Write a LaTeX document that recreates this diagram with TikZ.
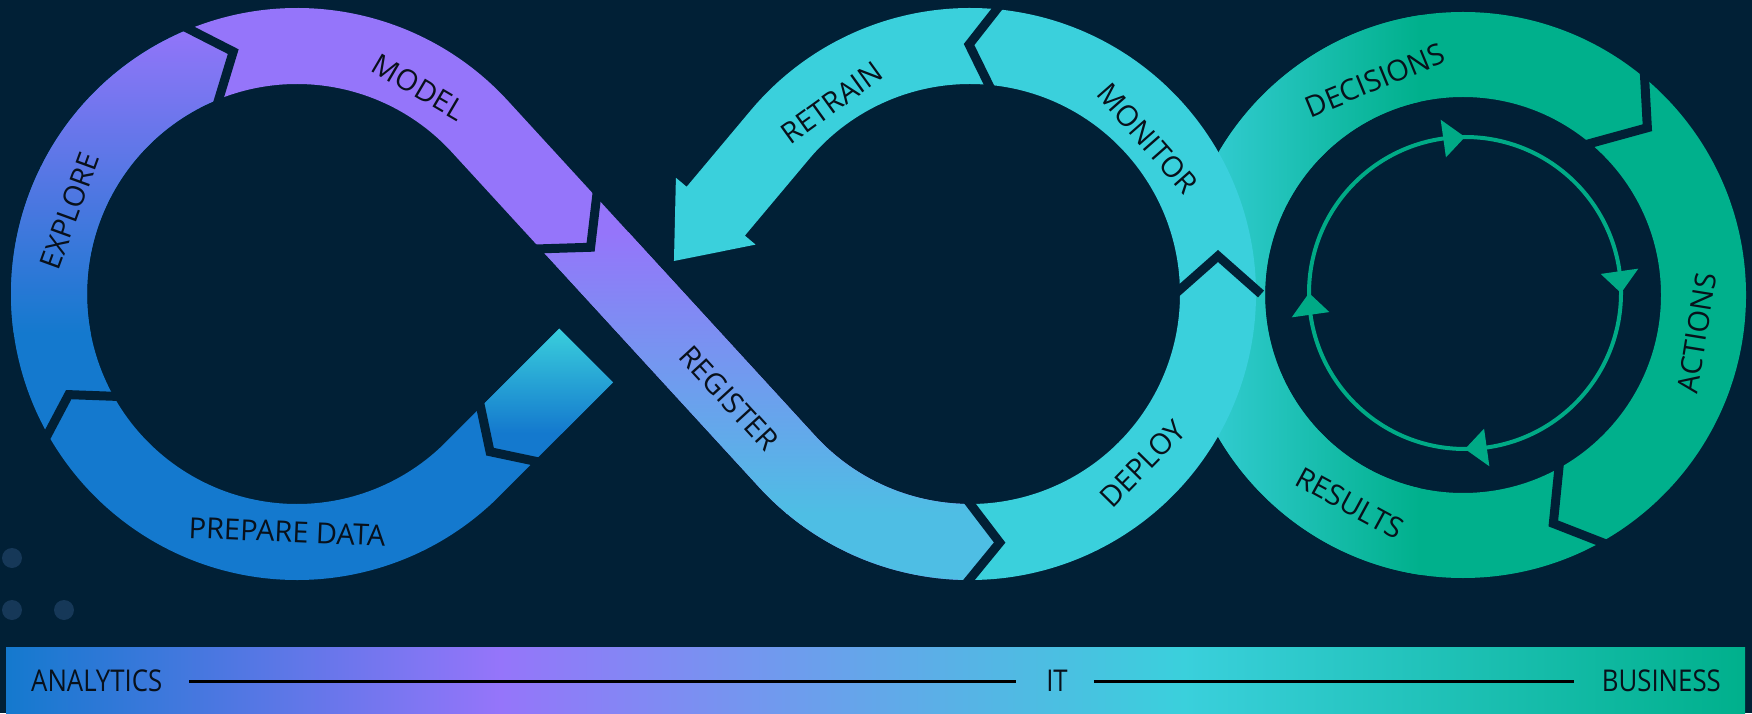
\documentclass[tikz,border=0pt]{standalone}
\usepackage{fontspec}
\setmainfont{Open Sans}
\newfontfamily\barfont[FakeStretch=0.86]{Open Sans}
\usetikzlibrary{calc}

\definecolor{bgc}{RGB}{1,32,54}
\definecolor{purp}{RGB}{149,117,250}
\definecolor{blu}{RGB}{20,121,206}
\definecolor{cyn}{RGB}{58,208,220}
\definecolor{grn}{RGB}{0,176,140}
\definecolor{lblu}{RGB}{78,190,228}
\definecolor{dotc}{RGB}{22,56,88}
\definecolor{ink}{RGB}{8,16,26}
\definecolor{loopc}{RGB}{0,170,134}

\begin{document}
\begin{tikzpicture}[x=1pt, y=1pt,
  every node/.style={font=\fontsize{29}{29}\selectfont, text=ink, inner sep=0pt},
  barlab/.style={font=\barfont\fontsize{30}{30}\selectfont},
  barline/.style={draw=black, line width=3pt},
  cutline/.style={draw=bgc, line width=9pt, line join=miter, line cap=butt}]

  \useasboundingbox (0,0) rectangle (1752,713);
  \fill[bgc] (0,0) rectangle (1752,713);

  % centres of the three loops
  \coordinate (L) at (297,419);
  \coordinate (M) at (970,419);
  \coordinate (R) at (1463,418);
  \coordinate (C) at (1465,420);
  \coordinate (S0) at ($(L)+(42.52:248)$);
  \coordinate (T0) at ($(L)+(-45:248)$);
  \coordinate (Q0) at ($(M)+(140:248)$);
  \coordinate (Q1) at ($(Q0)+(230:100)$);

  % chevron tips
  \coordinate (chEP) at ($(L)+(210:248)+(120:27)$);
  \coordinate (chEM) at ($(L)+(113:248)+(23:36)$);
  \coordinate (chMR) at ($(S0)+(-47.48:164)$);
  \coordinate (chRD) at ($(M)+(269:248)+(359:34)$);
  \coordinate (chDM) at ($(M)+(0:248)+(90:38)$);
  \coordinate (chMT) at ($(M)+(84:248)+(174:27)$);
  \coordinate (chPC) at ($(T0)+(45:25)$);

  % Business ring (right)
  \begin{scope}
    \clip (R) ++(0:283) arc[start angle=0, end angle=360, radius=283]
      -- ($(R)+(0:198)$) arc[start angle=360, end angle=0, radius=198] -- cycle;
    \fill[grn] (1150,100) rectangle (1752,713);
    \shade[left color=cyn, right color=grn] (1175,100) rectangle (1420,713);
  \end{scope}
  \draw[cutline] ($(R)+(51:288)$) -- ($(R)+(51:246)+(-39:38)$) -- ($(R)+(51:193)$);
  \draw[cutline] ($(R)+(-60:288)$) -- ($(R)+(-60:243)+(-150:36)$) -- ($(R)+(-60:193)$);

  % Prepare data (bottom-left)
  \fill[blu] ($(T0)+(45:53)+(-45:38)$) -- ($(L)+(-45:286)$)
    arc[start angle=-45, end angle=-150, radius=286] -- (chEP) -- ($(L)+(-150:210)$)
    arc[start angle=-150, end angle=-45, radius=210] -- ($(T0)+(45:53)+(135:38)$) -- (chPC) -- cycle;

  % end of retrain, coming out under register
  \begin{scope}
    \clip ($(T0)+(45:161)+(-45:38)$) -- ($(T0)+(45:161)+(135:38)$)
      -- ($(T0)+(45:53)+(135:38)$) -- (chPC) -- ($(T0)+(45:53)+(-45:38)$) -- cycle;
    \fill[blu] (440,240) rectangle (640,400);
    \shade[top color=cyn, bottom color=blu] (440,280) rectangle (640,386);
  \end{scope}

  % Explore (left)
  \begin{scope}
    \clip ($(L)+(210:286)$) arc[start angle=210, end angle=113, radius=286] -- (chEM)
      -- ($(L)+(113:210)$) arc[start angle=113, end angle=210, radius=210] -- (chEP) -- cycle;
    \fill[blu] (0,250) rectangle (320,700);
    \shade[top color=purp, bottom color=blu] (0,380) rectangle (320,690);
  \end{scope}

  % Model (top-left)
  \fill[purp] ($(L)+(113:286)$) arc[start angle=113, end angle=42.52, radius=286]
    -- ($(S0)+(-47.48:127)+(42.52:38)$) -- (chMR) -- ($(S0)+(-47.48:127)+(222.52:38)$)
    -- ($(L)+(42.52:210)$) arc[start angle=42.52, end angle=113, radius=210] -- (chEM) -- cycle;

  % Register (crossing)
  \begin{scope}
    \clip ($(S0)+(-47.48:127)+(42.52:38)$) -- ($(M)+(222.52:210)$)
      arc[start angle=222.52, end angle=269, radius=210] -- (chRD) -- ($(M)+(269:286)$)
      arc[start angle=269, end angle=222.52, radius=286]
      -- ($(S0)+(-47.48:127)+(222.52:38)$) -- (chMR) -- cycle;
    \fill[purp] (500,100) rectangle (1050,560);
    \fill[lblu] (500,100) rectangle (1050,200.5);
    \shade[top color=purp, bottom color=lblu] (500,200) rectangle (1050,480);
  \end{scope}

  % Deploy, monitor, retrain (middle)
  \fill[cyn] ($(M)+(269:286)$) arc[start angle=269, end angle=360, radius=286] -- (chDM)
    -- ($(M)+(0:210)$) arc[start angle=360, end angle=269, radius=210] -- (chRD) -- cycle;
  \fill[cyn] ($(M)+(0:286)$) arc[start angle=0, end angle=84, radius=286] -- (chMT)
    -- ($(M)+(84:210)$) arc[start angle=84, end angle=0, radius=210] -- (chDM) -- cycle;
  \fill[cyn] ($(M)+(84:286)$) arc[start angle=84, end angle=140, radius=286]
    -- ($(Q1)+(140:38)$) -- ($(Q1)+(140:52)$) -- ($(Q1)+(230:65)$)
    -- ($(Q1)+(-40:52)$) -- ($(Q1)+(-40:38)$)
    -- ($(M)+(140:210)$) arc[start angle=140, end angle=84, radius=210] -- (chMT) -- cycle;

  % cuts between the steps
  \draw[cutline] ($(L)+(210:291)$) -- (chEP) -- ($(L)+(210:205)$);
  \draw[cutline] ($(L)+(113:291)$) -- (chEM) -- ($(L)+(113:205)$);
  \draw[cutline] ($(S0)+(-47.48:127)+(42.52:43)$) -- (chMR) -- ($(S0)+(-47.48:127)+(222.52:43)$);
  \draw[cutline] ($(M)+(269:291)$) -- (chRD) -- ($(M)+(269:205)$);
  \draw[cutline] ($(M)+(0:291)$) -- (chDM) -- ($(M)+(0:205)$);
  \draw[cutline] ($(M)+(84:291)$) -- (chMT) -- ($(M)+(84:205)$);
  \draw[cutline] ($(T0)+(45:53)+(-45:43)$) -- (chPC) -- ($(T0)+(45:53)+(135:43)$);

  % step labels
  \node[rotate=70] (explore) at ($(L)+(160:242)$) {EXPLORE};
  \node[rotate=-30.5] (model) at ($(L)+(59.5:240)$) {MODEL};
  \node[rotate=-2.4] (prepare) at ($(L)+(267.6:238)$) {PREPARE DATA};
  \node[rotate=-47.5] (register) at ($(S0)+(-47.48:369)$) {REGISTER};
  \node[rotate=45.5] (deploy) at ($(M)+(315.5:242)$) {DEPLOY};
  \node[rotate=-48.7] (monitor) at ($(M)+(41.3:236)$) {MONITOR};
  \node[rotate=35.8] (retrain) at ($(M)+(125.8:236)$) {RETRAIN};
  \node[rotate=22.3] (decisions) at ($(R)+(112.3:232)$) {DECISIONS};
  \node[rotate=80.8] (actions) at ($(R)+(-9.2:237)$) {ACTIONS};
  \node[rotate=-28.5] (results) at ($(R)+(241.5:237)$) {RESULTS};

  % inner loop with arrows
  \draw[loopc, line width=4pt] (C) circle[radius=156];
  \foreach \a in {0,90,180,270}
    \fill[loopc] ($(C)+(\a:156)$) -- ($(C)+(\a+8:137)$) -- ($(C)+(\a+8:175)$) -- cycle;

  % dots
  \fill[dotc] (12,155) circle[radius=10];
  \fill[dotc] (12,103) circle[radius=10];
  \fill[dotc] (64,103) circle[radius=10];

  % Bottom bar
  \shade[left color=blu, right color=purp] (6,0) rectangle (500,66);
  \shade[left color=purp, right color=cyn] (499.5,0) rectangle (1184,66);
  \shade[left color=cyn, right color=grn] (1183.5,0) rectangle (1745,66);
  \node[barlab, anchor=west] (analytics) at (31,32) {ANALYTICS};
  \node[barlab] (it) at (1057,32) {IT};
  \node[barlab, anchor=east] (business) at (1721,32) {BUSINESS};
  \draw[barline] ([xshift=27pt]analytics.east) -- ([xshift=-30pt]it.west);
  \draw[barline] ([xshift=26pt]it.east) -- ([xshift=-28pt]business.west);

\end{tikzpicture}
\end{document}
